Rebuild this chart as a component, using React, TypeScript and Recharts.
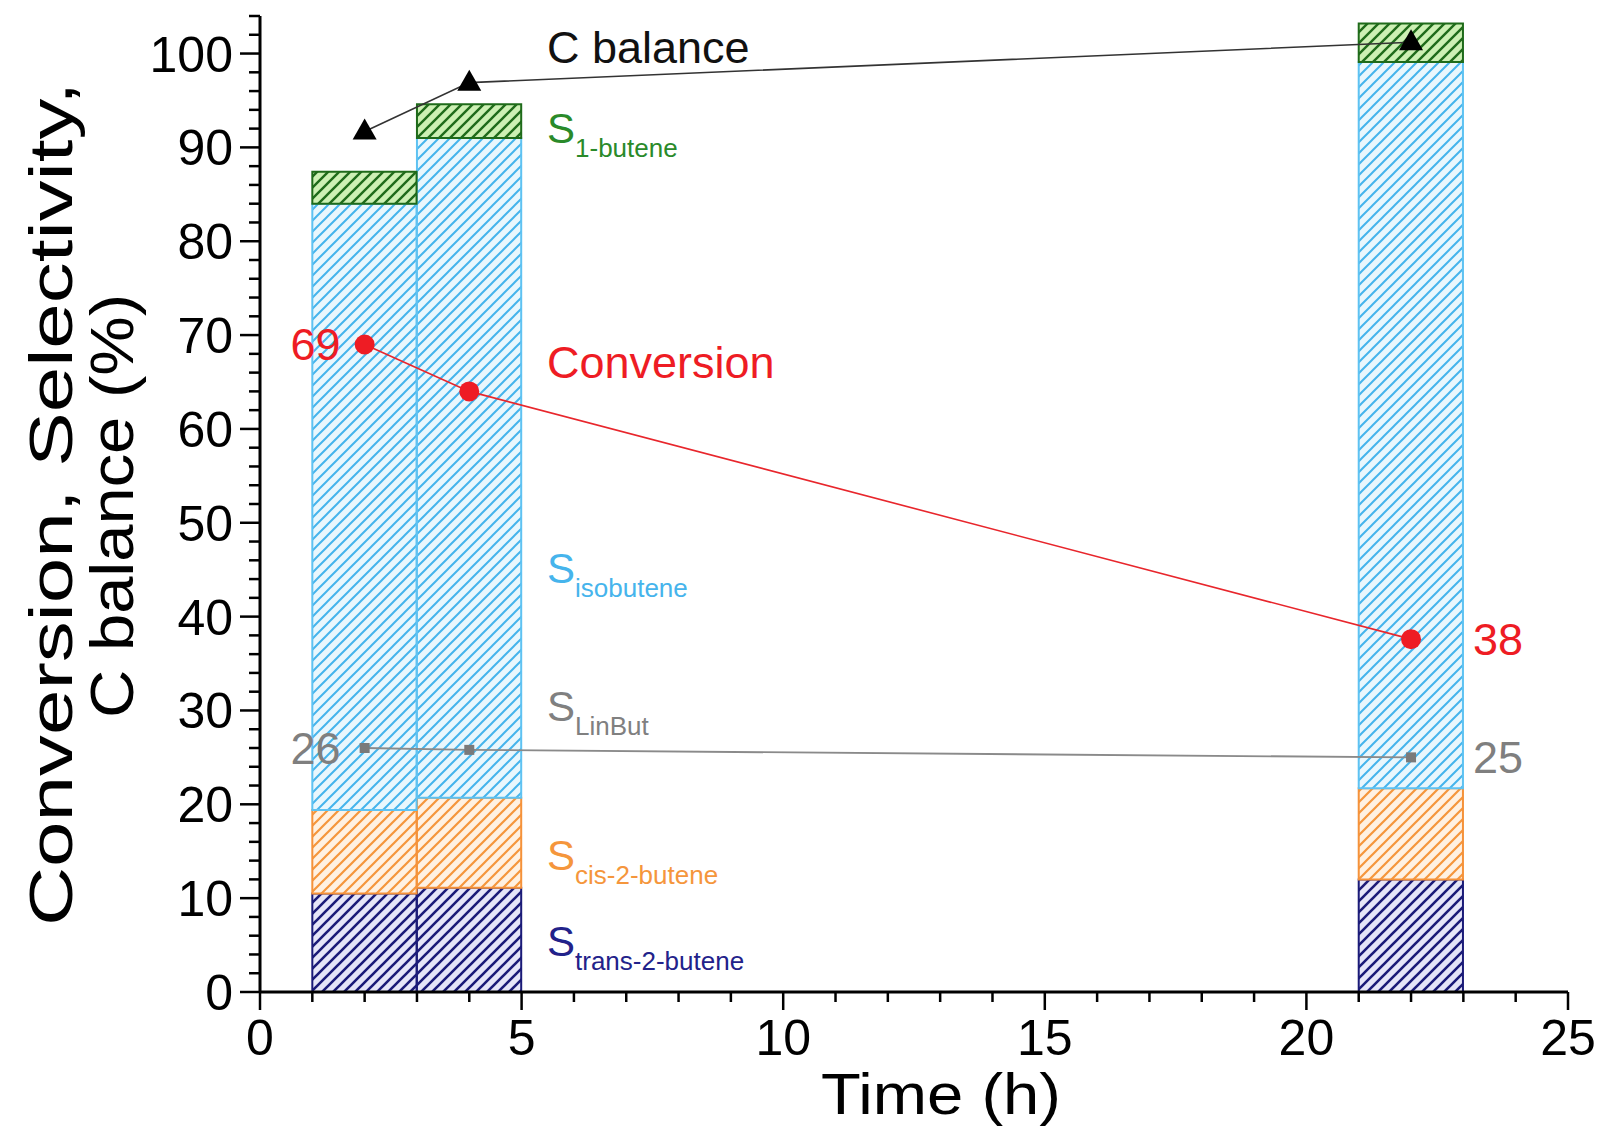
import React from "react";
import {
  Bar,
  ComposedChart,
  Line,
  XAxis,
  YAxis,
} from "recharts";

// time on stream (h)
const times = [2, 4, 22];

// stacked selectivities (%), bottom to top
const sTrans = [10.5, 11.1, 12.0];
const sCis = [8.9, 9.6, 9.7];
const sIso = [64.6, 70.3, 77.4];
const s1Butene = [3.4, 3.6, 4.1];

// lines (%)
const cBalance = [91.7, 96.9, 101.2];
const conversion = [69, 64, 37.6];
const sLinBut = [26, 25.8, 25];

const xTicks = Array.from({ length: 26 }, (_, i) => i);
const yTicks = Array.from({ length: 53 }, (_, i) => i * 2);

const data = times.map((t, i) => ({
  time: t,
  trans: sTrans[i],
  cis: sCis[i],
  iso: sIso[i],
  oneBut: s1Butene[i],
  cBalance: cBalance[i],
  conversion: conversion[i],
  linBut: sLinBut[i],
}));

const W = 1596;
const H = 1130;
const margin = { top: 8, right: 36, left: 152, bottom: 0 };
const Y_AXIS_W = 100;
const PLOT_W = W - margin.left - Y_AXIS_W - margin.right;
const BAR_SPAN = 2; // hours covered by one bar
// recharts shrinks bars that fill the whole band, so stay just under it
const barSize = (PLOT_W * BAR_SPAN) / 25 - 0.4;

const font = "'Liberation Sans', Arial, sans-serif";

function XTick({ x, y, payload }: any) {
  const major = payload.value % 5 === 0;
  return (
    <g>
      <line x1={x} y1={y} x2={x} y2={y + (major ? 18 : 10)} stroke="#000" strokeWidth={2.5} />
      {major && (
        <text x={x} y={y + 63} textAnchor="middle" fontSize={50} fontFamily={font} fill="#000">
          {payload.value}
        </text>
      )}
    </g>
  );
}

function YTick({ x, y, payload }: any) {
  const major = payload.value % 10 === 0;
  return (
    <g>
      <line x1={x} y1={y} x2={x - (major ? 20 : 11)} y2={y} stroke="#000" strokeWidth={2.5} />
      {major && (
        <text x={x - 27} y={y + 18} textAnchor="end" fontSize={50} fontFamily={font} fill="#000">
          {payload.value}
        </text>
      )}
    </g>
  );
}

function Triangle({ cx, cy }: any) {
  if (cx == null) return null;
  return <polygon points={`${cx},${cy - 13} ${cx - 12},${cy + 8} ${cx + 12},${cy + 8}`} fill="#000" />;
}

function RedDot({ cx, cy }: any) {
  if (cx == null) return null;
  return <circle cx={cx} cy={cy} r={10} fill="#ee1c24" />;
}

function GreySquare({ cx, cy }: any) {
  if (cx == null) return null;
  return <rect x={cx - 5} y={cy - 5} width={10} height={10} fill="#7a7a7a" />;
}

function endLabel(color: string) {
  return (props: any) => {
    const { x, y, index, value } = props;
    if (index === 1) return <g />;
    const left = index === 0;
    return (
      <text
        x={left ? x - 24 : x + 62}
        y={y + 16}
        textAnchor={left ? "end" : "start"}
        fontSize={45}
        fontFamily={font}
        fill={color}
      >
        {Math.round(value)}
      </text>
    );
  };
}

function Hatch({ id, bg, line, w }: { id: string; bg: string; line: string; w: number }) {
  return (
    <pattern id={id} patternUnits="userSpaceOnUse" width={11} height={11}>
      <rect width={11} height={11} fill={bg} />
      <path d="M-1,1 l2,-2 M0,11 l11,-11 M10,12 l2,-2" stroke={line} strokeWidth={w} />
    </pattern>
  );
}

function SubLabel({ x, y, main, sub, color }: any) {
  return (
    <text x={x} y={y} fill={color} fontFamily={font}>
      <tspan fontSize={42}>{main}</tspan>
      <tspan fontSize={26} dy={14}>{sub}</tspan>
    </text>
  );
}

export default function App() {
  return (
    <ComposedChart width={W} height={H} data={data} margin={margin}>
      <defs>
        <Hatch id="hTrans" bg="#e6e6f8" line="#1b1b78" w={2.6} />
        <Hatch id="hCis" bg="#fff1e2" line="#f5963c" w={2.2} />
        <Hatch id="hIso" bg="#e9f7fd" line="#45b4ec" w={2} />
        <Hatch id="hOne" bg="#cdf0b4" line="#1f6b1a" w={2.4} />
      </defs>
      <XAxis
        dataKey="time"
        type="number"
        domain={[0, 25]}
        ticks={xTicks}
        interval={0}
        height={146}
        tickSize={0}
        tickMargin={0}
        tick={<XTick />}
        axisLine={{ stroke: "#000", strokeWidth: 3 }}
        tickLine={false}
      />
      <YAxis
        type="number"
        domain={[0, 104]}
        ticks={yTicks}
        interval={0}
        width={Y_AXIS_W}
        tickSize={0}
        tickMargin={0}
        tick={<YTick />}
        axisLine={{ stroke: "#000", strokeWidth: 3 }}
        tickLine={false}
      />
      <Bar dataKey="trans" stackId="s" barSize={barSize} fill="url(#hTrans)" stroke="#1b1b78" strokeWidth={2} isAnimationActive={false} />
      <Bar dataKey="cis" stackId="s" barSize={barSize} fill="url(#hCis)" stroke="#f5923a" strokeWidth={2} isAnimationActive={false} />
      <Bar dataKey="iso" stackId="s" barSize={barSize} fill="url(#hIso)" stroke="#5ec2f2" strokeWidth={2} isAnimationActive={false} />
      <Bar dataKey="oneBut" stackId="s" barSize={barSize} fill="url(#hOne)" stroke="#1f6b1a" strokeWidth={2} isAnimationActive={false} />
      <Line dataKey="linBut" stroke="#8a8a8a" strokeWidth={1.8} dot={<GreySquare />} activeDot={false} label={endLabel("#7f7f7f")} isAnimationActive={false} />
      <Line dataKey="conversion" stroke="#e8262c" strokeWidth={1.6} dot={<RedDot />} activeDot={false} label={endLabel("#ee1c24")} isAnimationActive={false} />
      <Line dataKey="cBalance" stroke="#333" strokeWidth={1.6} dot={<Triangle />} activeDot={false} isAnimationActive={false} />

      <text x={539} y={55} fontSize={45} fontFamily={font} fill="#111">C balance</text>
      <SubLabel x={539} y={135} main="S" sub="1-butene" color="#2a8a2a" />
      <text x={539} y={370} fontSize={45} fontFamily={font} fill="#ee1c24">Conversion</text>
      <SubLabel x={539} y={575} main="S" sub="isobutene" color="#46b4ec" />
      <SubLabel x={539} y={713} main="S" sub="LinBut" color="#808080" />
      <SubLabel x={539} y={862} main="S" sub="cis-2-butene" color="#f5963c" />
      <SubLabel x={539} y={948} main="S" sub="trans-2-butene" color="#22228a" />

      <text x={933} y={1106} textAnchor="middle" fontSize={58} textLength={240} lengthAdjust="spacingAndGlyphs" fontFamily={font} fill="#000">
        Time (h)
      </text>
      <text transform="translate(64,496) rotate(-90)" textAnchor="middle" fontSize={62} textLength={844} lengthAdjust="spacingAndGlyphs" fontFamily={font} fill="#000">
        Conversion, Selectivity,
      </text>
      <text transform="translate(125,498) rotate(-90)" textAnchor="middle" fontSize={62} textLength={424} lengthAdjust="spacingAndGlyphs" fontFamily={font} fill="#000">
        C balance (%)
      </text>
    </ComposedChart>
  );
}
